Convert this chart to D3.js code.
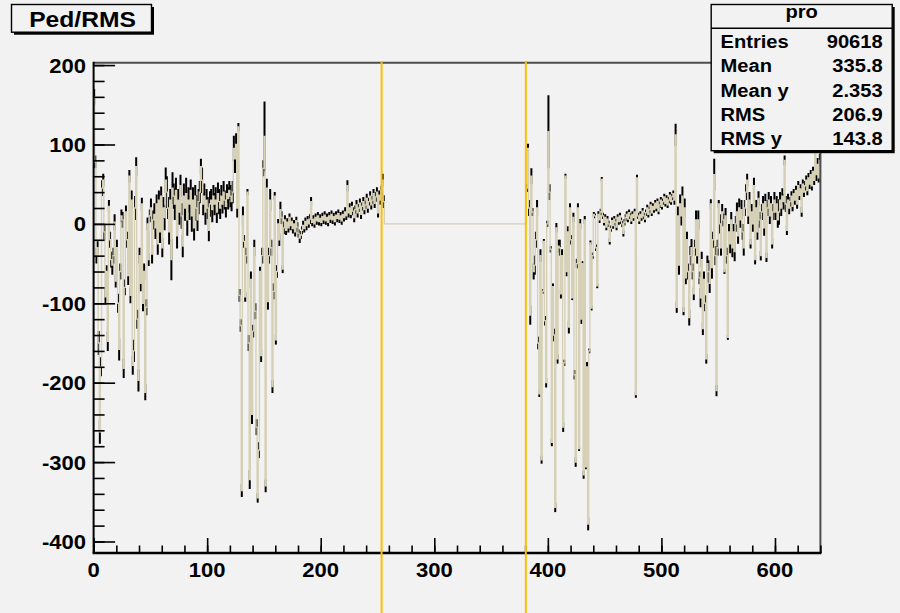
<!DOCTYPE html>
<html>
<head>
<meta charset="utf-8">
<script src="https://cdn.jsdelivr.net/npm/d3@7"></script>
<style>
  html, body { margin: 0; padding: 0; background: #f2f2f2; }
  svg { display: block; }
  text { font-family: "Liberation Sans", Arial, Helvetica, sans-serif; font-weight: bold; fill: #000; }
</style>
</head>
<body>
<svg id="chart" width="900" height="613"></svg>
<script>
// ---- profile contents: mean pedestal/RMS per channel bin, with its error ----
const nBins = 640;

// channels 0..255
const leftFirstBin = 0;
const leftMeans = [
  160, 78, -40, -30, -150, -262, -180, 45, 55, -10,
  -92, -60, -148, 22, -20, -45, -52, -40, 2, -72,
  -30, -100, -158, -60, 10, 5, -182, -80, 15, -20,
  -65, 60, -90, 30, -178, -160, 20, 72, -120, -197,
  -40, -75, 25, -100, -60, -212, -105, 0, -45, 10,
  20, -38, 5, 12, -5, 25, -25, 30, -10, 35,
  -30, 20, 8, 55, 40, 20, -10, 30, -45, 45,
  35, 25, 42, -15, 30, 15, 48, 10, -28, 35,
  20, 38, 5, 30, 25, 42, 10, 30, -5, 35,
  20, 5, 28, 40, 72, 55, 25, 35, 15, 30,
  20, -8, 25, 30, 18, 35, 25, 30, 15, 38,
  28, 20, 35, 25, 40, 30, 22, 38, 32, 42,
  35, 28, 40, 95, 82, 100, 20, 122, -90, -128,
  -336, 10, -22, -92, -40, 40, -150, -322, -70, -240,
  -135, -30, -110, -256, -345, -285, -60, -166, -40, 70,
  110, -330, 45, -98, -40, 30, -30, -205, -85, 35,
  -146, -60, 0, -20, 18, 8, -57, -5, 5, -8,
  2, -5, 8, -2, 3, -6, 0, -10, 4, -4,
  -12, -18, -14, -8, -2, -6, 3, -2, 5, 0,
  6, 28, 2, 6, 0, 8, 4, 10, 3, 7,
  2, 9, 5, 11, 4, 8, 2, 10, 6, 12,
  5, 9, 3, 11, 7, 13, 6, 10, 4, 12,
  8, 15, 10, 48, 14, 20, 12, 22, 16, 8,
  18, 24, 14, 20, 26, 12, 22, 28, 18, 24,
  32, 20, 28, 35, 24, 30, 38, 26, 34, 40,
  14, 36, 30, 42, 55, 28
];
const leftErrors = [
  10, 8, 10, 8, 15, 15, 12, 10, 8, 10,
  10, 8, 12, 8, 10, 10, 12, 10, 10, 8,
  10, 12, 14, 10, 8, 10, 12, 10, 8, 10,
  12, 8, 10, 12, 12, 14, 15, 12, 12, 14,
  10, 10, 8, 10, 10, 10, 10, 8, 8, 8,
  12, 12, 12, 14, 14, 12, 14, 12, 14, 12,
  12, 14, 16, 16, 20, 14, 16, 14, 26, 20,
  16, 20, 16, 16, 14, 16, 14, 16, 14, 16,
  16, 20, 20, 16, 20, 14, 20, 16, 16, 14,
  16, 14, 16, 14, 10, 16, 14, 16, 16, 14,
  14, 14, 16, 14, 16, 14, 14, 16, 14, 14,
  16, 14, 14, 12, 14, 12, 14, 12, 14, 12,
  14, 12, 14, 16, 18, 14, 12, 5, 8, 8,
  8, 12, 8, 6, 10, 4, 10, 12, 10, 12,
  8, 10, 10, 10, 6, 10, 6, 8, 10, 10,
  44, 8, 12, 10, 10, 14, 10, 8, 10, 5,
  6, 8, 6, 8, 10, 8, 5, 8, 6, 6,
  5, 6, 5, 6, 5, 6, 5, 6, 5, 6,
  5, 6, 5, 5, 6, 5, 5, 6, 5, 5,
  6, 6, 5, 5, 5, 5, 5, 5, 5, 5,
  5, 5, 5, 5, 5, 5, 5, 5, 5, 5,
  5, 5, 5, 5, 5, 5, 5, 5, 5, 5,
  5, 6, 5, 7, 6, 6, 5, 6, 5, 6,
  5, 6, 6, 5, 6, 6, 5, 6, 6, 5,
  6, 6, 5, 6, 6, 5, 6, 6, 6, 6,
  6, 6, 6, 6, 8, 8
];

// channels 381..639 (channels in between have no entries)
const rightFirstBin = 381;
const rightMeans = [
  45, 95, 20, -115, 60, 15, -60, -52, -20, 20,
  -150, -214, -40, -297, -85, -22, -122, -200, 0, 116,
  40, -32, -275, -79, -140, -357, -5, -170, -28, -30,
  -88, -40, -256, -175, 60, -60, -10, -130, 20, -20,
  -93, 8, -190, -300, -50, 20, -283, 0, -120, -50,
  -316, 5, -306, -180, -378, -160, -24, -106, -40, 12,
  10, -30, -78, 12, 5, 15, 56, 10, 2, 8,
  -4, 6, 0, -22, -6, 4, -2, 6, 2, -4,
  8, 3, 10, 4, 0, -12, 2, 8, 12, 6,
  14, 10, 4, 12, 8, 15, -215, 58, 10, 4,
  12, 8, 16, 10, 6, 14, 20, 12, 18, 24,
  14, 22, 18, 26, 20, 28, 16, 24, 30, 22,
  28, 34, 26, 32, 24, 30, 36, 28, 34, 38,
  30, 112, -105, 10, -52, 25, 10, 35, -110, 20,
  -68, -20, -60, -118, -40, -30, -60, -88, -30, 5,
  -40, 5, -68, -93, -45, -132, -70, -100, -170, -50,
  -60, -75, 25, -55, -20, 62, -40, -210, -30, 25,
  0, -30, 15, 5, -60, 10, -40, -143, -10, -25,
  5, -30, -10, -35, 0, 15, -15, 20, 5, 18,
  -10, -30, 20, 40, 55, 10, 30, -25, 15, 0,
  48, -45, 20, -10, 32, 5, -40, 15, 25, -5,
  28, -42, 20, 30, 10, 25, -25, 15, 30, 15,
  25, 5, 15, 30, 20, 35, 28, 80, 25, -8,
  30, 20, 28, 35, 22, 38, 30, 42, 25, 48,
  36, 44, 15, 50, 40, 48, 55, 42, 58, 50,
  62, 48, 66, 55, 97, 62, 75, 58, 80
];
const rightErrors = [
  5, 6, 10, 12, 10, 5, 10, 12, 10, 10,
  8, 4, 8, 5, 3, 3, 6, 6, 4, 46,
  10, 4, 5, 4, 8, 6, 6, 6, 8, 10,
  6, 8, 6, 4, 3, 6, 7, 8, 6, 6,
  3, 6, 6, 6, 6, 6, 3, 6, 6, 3,
  5, 5, 3, 6, 8, 3, 3, 3, 4, 3,
  3, 4, 3, 4, 4, 4, 3, 4, 4, 4,
  4, 4, 4, 4, 4, 4, 4, 4, 4, 4,
  4, 4, 4, 4, 4, 4, 4, 4, 4, 4,
  4, 4, 4, 4, 4, 4, 4, 4, 4, 4,
  4, 4, 4, 4, 4, 4, 4, 4, 4, 4,
  4, 4, 4, 4, 4, 4, 4, 4, 4, 4,
  4, 4, 4, 4, 4, 4, 4, 4, 4, 4,
  6, 14, 7, 12, 12, 12, 12, 12, 5, 12,
  8, 10, 10, 10, 12, 11, 10, 8, 10, 12,
  10, 12, 8, 12, 10, 8, 10, 10, 6, 10,
  14, 12, 6, 14, 10, 20, 12, 7, 10, 5,
  12, 10, 10, 8, 3, 10, 10, 3, 10, 12,
  10, 12, 10, 12, 10, 12, 10, 12, 10, 12,
  10, 10, 10, 10, 8, 10, 10, 6, 10, 10,
  10, 6, 10, 10, 9, 10, 6, 10, 10, 10,
  10, 6, 10, 10, 10, 10, 6, 10, 10, 10,
  10, 10, 16, 10, 10, 10, 10, 6, 10, 6,
  8, 8, 6, 6, 6, 6, 6, 6, 6, 6,
  6, 6, 6, 6, 6, 6, 6, 6, 6, 6,
  6, 6, 6, 6, 6, 8, 8, 6, 8
];

// vertical marker lines (channel positions)
const cutLines = [253.6, 380.6];

// axis ticks and labels
const xTickValues = [0, 100, 200, 300, 400, 500, 600];
const yTickValues = [-400, -300, -200, -100, 0, 100, 200];
const yRange = [-414.5, 203];

// title and statistics box
const titleText = "Ped/RMS";
const statsTitle = "pro";
const statsLabels = ["Entries", "Mean", "Mean y", "RMS", "RMS y"];
const statsValues = ["90618", "335.8", "2.353", "206.9", "143.8"];

// ---- drawing ----
const svg = d3.select("#chart");
const frame = { left: 93.6, right: 820.4, top: 62.7, bottom: 553 };

svg.append("rect").attr("width", 900).attr("height", 613).attr("fill", "#f2f2f2");

const x = d3.scaleLinear().domain([0, nBins]).range([frame.left, frame.right]);
const y = d3.scaleLinear().domain(yRange).range([frame.bottom, frame.top]);

// per-bin records; bins without entries stay at 0
const bins = d3.range(nBins).map(i => ({ bin: i, mean: 0, err: 0 }));
leftMeans.forEach((m, k) => { bins[leftFirstBin + k].mean = m; bins[leftFirstBin + k].err = leftErrors[k]; });
rightMeans.forEach((m, k) => { bins[rightFirstBin + k].mean = m; bins[rightFirstBin + k].err = rightErrors[k]; });

svg.append("defs").append("clipPath").attr("id", "plotClip")
  .append("rect")
  .attr("x", frame.left).attr("y", frame.top)
  .attr("width", frame.right - frame.left).attr("height", frame.bottom - frame.top);

const plot = svg.append("g").attr("clip-path", "url(#plotClip)");

// error bars
plot.append("g").selectAll("line")
  .data(bins.filter(b => b.err > 0))
  .join("line")
  .attr("x1", b => x(b.bin + 0.5)).attr("x2", b => x(b.bin + 0.5))
  .attr("y1", b => y(b.mean - b.err)).attr("y2", b => y(b.mean + b.err))
  .attr("stroke", "#000").attr("stroke-width", 2);

// histogram outline
const stepPts = bins.map(b => [b.bin, b.mean]).concat([[nBins, bins[nBins - 1].mean]]);
const stepLine = d3.line().x(d => x(d[0])).y(d => y(d[1])).curve(d3.curveStepAfter);
plot.append("path")
  .attr("d", stepLine(stepPts))
  .attr("fill", "none")
  .attr("stroke", "#d5d0b6")
  .attr("stroke-width", 1.35);

// frame: top and right
svg.append("line").attr("x1", frame.left).attr("x2", frame.right).attr("y1", frame.top).attr("y2", frame.top)
  .attr("stroke", "#4d4d4d").attr("stroke-width", 2);
svg.append("line").attr("x1", frame.right).attr("x2", frame.right).attr("y1", frame.top).attr("y2", frame.bottom)
  .attr("stroke", "#4d4d4d").attr("stroke-width", 2);

// axes with inward ticks
const yMinor = d3.range(-400, 201, 20);
const xMinor = d3.range(0, 641, 20);

function styleAxis(g) {
  g.select(".domain").remove();
  g.selectAll(".tick line").attr("stroke", "#000").attr("stroke-width", 1.6);
  g.selectAll(".tick text").remove();
}

svg.append("g").attr("transform", `translate(${frame.left},0)`)
  .call(d3.axisLeft(y).tickValues(yMinor).tickSize(-11).tickSizeOuter(0)).call(styleAxis);
svg.append("g").attr("transform", `translate(${frame.left},0)`)
  .call(d3.axisLeft(y).tickValues(yTickValues).tickSize(-21.5).tickSizeOuter(0)).call(styleAxis);
svg.append("g").attr("transform", `translate(0,${frame.bottom})`)
  .call(d3.axisBottom(x).tickValues(xMinor).tickSize(-7.5).tickSizeOuter(0)).call(styleAxis);
svg.append("g").attr("transform", `translate(0,${frame.bottom})`)
  .call(d3.axisBottom(x).tickValues(xTickValues).tickSize(-15).tickSizeOuter(0)).call(styleAxis);

// axis lines
svg.append("line").attr("x1", frame.left).attr("x2", frame.left).attr("y1", frame.top - 1).attr("y2", frame.bottom)
  .attr("stroke", "#000").attr("stroke-width", 2);
svg.append("line").attr("x1", frame.left - 1).attr("x2", frame.right + 1).attr("y1", frame.bottom).attr("y2", frame.bottom)
  .attr("stroke", "#000").attr("stroke-width", 2.6);

// tick labels (slightly wide bold face)
const labelSize = 21, labelStretch = 1.05;
svg.append("g").selectAll("text").data(yTickValues).join("text")
  .attr("transform", d => `translate(86,${y(d) + 7.5}) scale(${labelStretch},1)`)
  .attr("text-anchor", "end").attr("font-size", labelSize)
  .text(d => d);
svg.append("g").selectAll("text").data(xTickValues).join("text")
  .attr("transform", d => `translate(${x(d)},576.5) scale(${labelStretch},1)`)
  .attr("text-anchor", "middle").attr("font-size", labelSize)
  .text(d => d);

// marker lines
svg.append("g").selectAll("line").data(cutLines).join("line")
  .attr("x1", d => x(d)).attr("x2", d => x(d))
  .attr("y1", 61).attr("y2", 613)
  .attr("stroke", "#ffbf00").attr("stroke-width", 2);

// boxes with a drop shadow on the right and bottom
function shadowBox(x0, y0, x1, y1) {
  svg.append("rect").attr("x", x0 + 2.5).attr("y", y0 + 2.5).attr("width", x1 - x0).attr("height", y1 - y0)
    .attr("fill", "#000");
  svg.append("rect").attr("x", x0).attr("y", y0).attr("width", x1 - x0).attr("height", y1 - y0)
    .attr("fill", "#f2f2f2").attr("stroke", "#000").attr("stroke-width", 1.4);
}

// title
shadowBox(11.5, 4.5, 151.5, 32.2);
svg.append("text")
  .attr("transform", `translate(82.5,27.3) scale(1.12,1)`)
  .attr("text-anchor", "middle").attr("font-size", 22)
  .text(titleText);

// statistics
shadowBox(711.2, 4.5, 892.2, 150.7);
svg.append("line").attr("x1", 711.2).attr("x2", 892.2).attr("y1", 28.3).attr("y2", 28.3)
  .attr("stroke", "#000").attr("stroke-width", 1.4);
svg.append("text")
  .attr("transform", `translate(801.7,17.6) scale(1.06,1)`)
  .attr("text-anchor", "middle").attr("font-size", 19)
  .text(statsTitle);
const rowY = d3.scaleLinear().domain([0, 4]).range([48.3, 145]);
svg.append("g").selectAll("text").data(statsLabels).join("text")
  .attr("transform", (d, i) => `translate(720.5,${rowY(i)}) scale(1.06,1)`)
  .attr("font-size", 19)
  .text(d => d);
svg.append("g").selectAll("text").data(statsValues).join("text")
  .attr("transform", (d, i) => `translate(882.7,${rowY(i)}) scale(1.06,1)`)
  .attr("text-anchor", "end").attr("font-size", 19)
  .text(d => d);
</script>
</body>
</html>
